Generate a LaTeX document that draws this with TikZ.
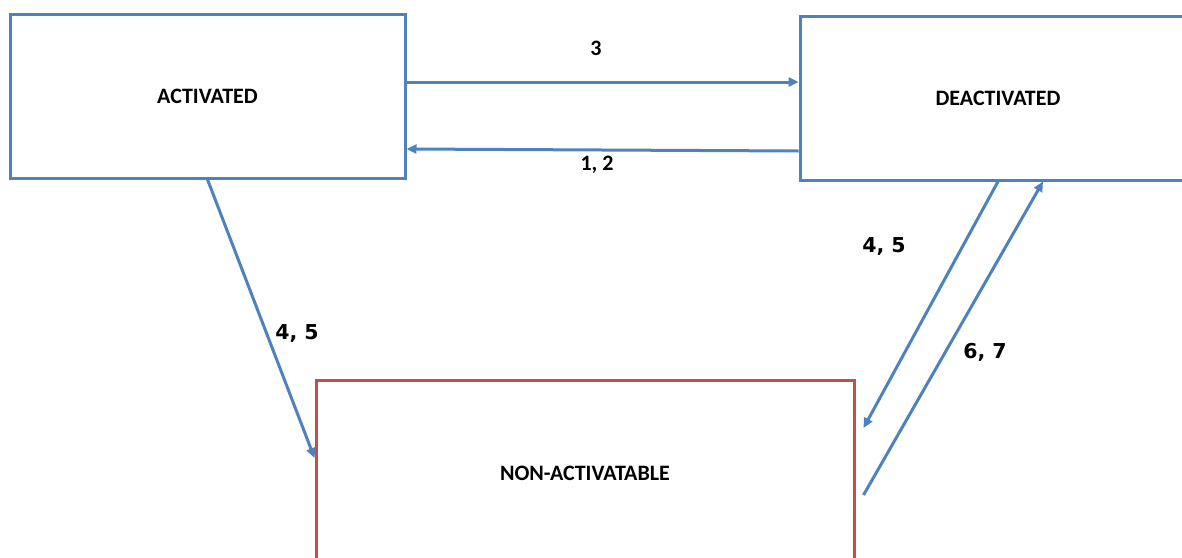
\documentclass[tikz,border=0pt]{standalone}
\usepackage{fontspec}
\setmainfont{Carlito}
\newfontfamily\dvfont{DejaVu Sans}
\usetikzlibrary{arrows.meta}
\definecolor{oblue}{HTML}{4F81BD}
\definecolor{ored}{HTML}{C0504D}
\tikzset{
  statebox/.style={draw=oblue, line width=3pt, rectangle, inner sep=0pt,
    font=\fontsize{22}{26}\selectfont\bfseries},
  conn/.style={draw=oblue, line width=3pt, -{Triangle[length=10pt,width=9pt]}},
  smalllbl/.style={font=\fontsize{22}{26}\selectfont\bfseries},
  biglbl/.style={font=\dvfont\fontsize{20.5}{24}\selectfont\bfseries},
}
\begin{document}
\begin{tikzpicture}[x=1pt,y=-1pt]
\useasboundingbox (0,0) rectangle (1182,557);
\clip (0,0) rectangle (1182,557);
\node[statebox, minimum width=395pt, minimum height=164pt] (act) at (207.5,96) {ACTIVATED};
\node[statebox, minimum width=396pt, minimum height=164pt] (deact) at (998,98) {DEACTIVATED};
\node[statebox, draw=ored, minimum width=538pt, minimum height=186pt] (non) at (585,473) {NON-ACTIVATABLE};
\draw[conn] ([yshift=14pt]act.east) -- ([yshift=16pt]deact.west);
\draw[conn] ([yshift=-53pt]deact.west) -- ([yshift=-53pt]act.east);
\draw[conn] (act.south) -- ([yshift=15pt]non.west);
\coordinate (nin) at ([xshift=8pt,yshift=45pt]non.east);
\coordinate (nout) at ([xshift=8pt,yshift=-22pt]non.east);
\draw[conn] (deact.south) -- (nin);
\draw[conn] (nout) -- ([xshift=45pt]deact.south);
\node[smalllbl] (l3) at (596,48) {3};
\node[smalllbl] (l12) at (597,165) {1, 2};
\node[biglbl] (l45a) at (297,333) {4, 5};
\node[biglbl] (l45b) at (884,246) {4, 5};
\node[biglbl] (l67) at (985,352) {6, 7};
\end{tikzpicture}
\end{document}
